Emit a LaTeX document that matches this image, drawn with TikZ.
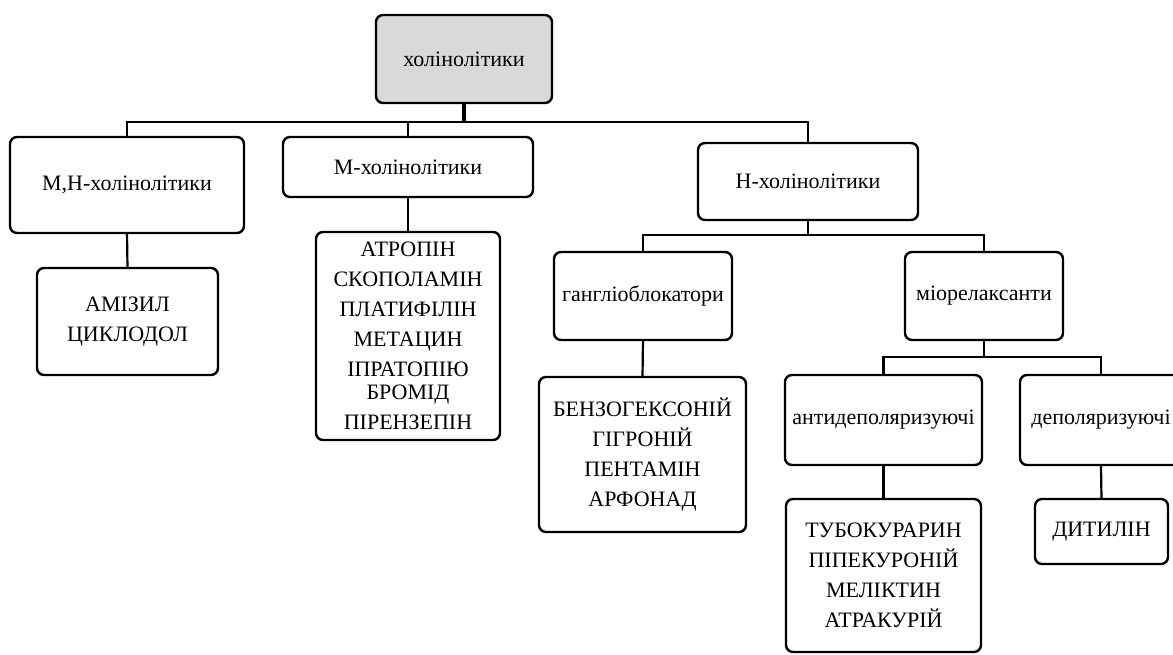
\documentclass[tikz,border=0pt]{standalone}
\usepackage{fontspec}
\setmainfont{Liberation Serif}
\definecolor{rootgray}{HTML}{D9D9D9}
\tikzset{
  box/.style={draw, line width=2.4pt, rounded corners=7pt, align=center, inner sep=2pt, outer sep=0pt, fill=white, font=\fontsize{22}{24.5}\selectfont},
  link/.style={line width=2.2pt},
}
\begin{document}
\begin{tikzpicture}[x=1pt,y=-1pt]
\useasboundingbox (0,0) rectangle (1173,655);
% level 0
\node[box, fill=rootgray, minimum width=176pt, minimum height=88pt] (root) at (464,59) {холінолітики};
% level 1
\node[box, minimum width=234pt, minimum height=96pt] (mh) at (127,185) {М,Н-холінолітики};
\node[box, minimum width=250pt, minimum height=60pt] (mc) at (408,167) {М-холінолітики};
\node[box, minimum width=220pt, minimum height=77pt] (nh) at (808,181.5) {Н-холінолітики};
% level 2
\node[box, minimum width=181pt, minimum height=107pt] (amiz) at (127.5,321.5) {АМІЗИЛ\\[5.5pt]ЦИКЛОДОЛ};
\node[box, minimum width=184pt, minimum height=208pt] (atrop) at (408,336) {АТРОПІН\\[5.5pt]СКОПОЛАМІН\\[5.5pt]ПЛАТИФІЛІН\\[5.5pt]МЕТАЦИН\\[5.5pt]ІПРАТОПІЮ\\[-1pt]БРОМІД\\[5.5pt]ПІРЕНЗЕПІН};
\node[box, minimum width=178pt, minimum height=88pt] (gang) at (643,296) {гангліоблокатори};
\node[box, minimum width=158pt, minimum height=88pt] (mio) at (984,296) {міорелаксанти};
% level 3
\node[box, minimum width=207pt, minimum height=155pt] (benz) at (642.5,454.5) {БЕНЗОГЕКСОНІЙ\\[5.5pt]ГІГРОНІЙ\\[5.5pt]ПЕНТАМІН\\[5.5pt]АРФОНАД};
\node[box, minimum width=197pt, minimum height=90pt] (anti) at (883.5,420) {антидеполяризуючі};
\node[box, minimum width=162pt, minimum height=90pt] (depol) at (1101,420) {деполяризуючі};
% level 4
\node[box, minimum width=195pt, minimum height=153pt] (tubo) at (883.5,575.5) {ТУБОКУРАРИН\\[5.5pt]ПІПЕКУРОНІЙ\\[5.5pt]МЕЛІКТИН\\[5.5pt]АТРАКУРІЙ};
\node[box, minimum width=133pt, minimum height=65pt] (dyt) at (1101.5,531.5) {ДИТИЛІН};
% connectors
\coordinate (b1) at (464,122);
\coordinate (b2) at (808,235);
\coordinate (b3) at (984,357);
\draw[link, line width=3.4pt] (root.south) -- (b1);
\draw[link] (mh.north) |- (b1) -| (nh.north);
\draw[link] (mc.north) -- (mc.north |- b1);
\draw[link] (mh.south) -- (amiz.north);
\draw[link] (mc.south) -- (atrop.north);
\draw[link] (nh.south) -- (b2);
\draw[link] (gang.north) |- (b2) -| (mio.north);
\draw[link] (gang.south) -- (benz.north);
\draw[link] (mio.south) -- (b3);
\draw[link] (anti.north) |- (b3) -| (depol.north);
\draw[link] (anti.south) -- (tubo.north);
\draw[link] (depol.south) -- (dyt.north);
\end{tikzpicture}
\end{document}
